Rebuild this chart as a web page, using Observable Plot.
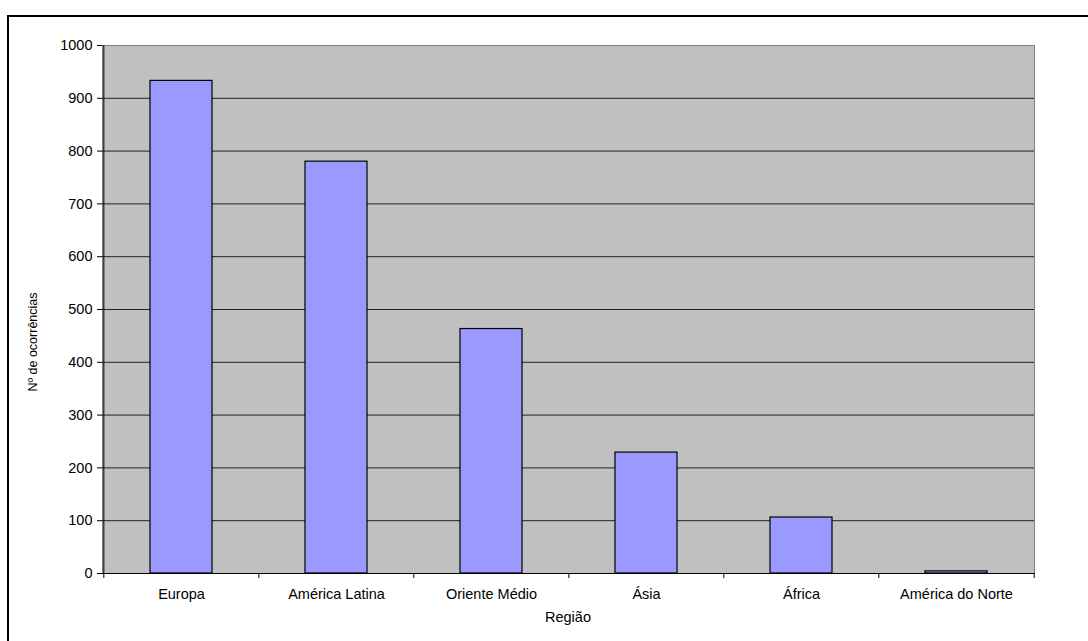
<!DOCTYPE html>
<html>
<head>
<meta charset="utf-8">
<script src="https://cdn.jsdelivr.net/npm/d3@7"></script>
<script src="https://cdn.jsdelivr.net/npm/@observablehq/plot@0.6"></script>
<style>
  html, body { margin: 0; padding: 0; background: #fff; }
  #wrap { position: relative; width: 1088px; height: 641px; overflow: hidden; }
  #border { position: absolute; left: 7px; top: 15px; width: 1200px; height: 800px; border-left: 2px solid #000; border-top: 2px solid #000; box-sizing: border-box; }
  #chart { position: absolute; left: 0; top: 0; }
  #ylab { position: absolute; left: 33px; top: 342px; transform: translate(-50%, -50%) rotate(-90deg); font: 12.5px "Liberation Sans", Arial, sans-serif; white-space: nowrap; color: #000; }
  #xlab { position: absolute; left: 568px; top: 617px; transform: translate(-50%, -50%); font: 14.5px "Liberation Sans", Arial, sans-serif; color: #000; }
</style>
</head>
<body>
<div id="wrap">
  <div id="border"></div>
  <div id="chart"></div>
  <div id="ylab">Nº de ocorrências</div>
  <div id="xlab">Região</div>
</div>
<script>
const regions = ["Europa", "América Latina", "Oriente Médio", "Ásia", "África", "América do Norte"];
const counts = [933, 780, 463, 229, 106, 4];
const yTicks = [0, 100, 200, 300, 400, 500, 600, 700, 800, 900, 1000];
const gridTicks = [100, 200, 300, 400, 500, 600, 700, 800, 900];

const data = regions.map((r, i) => ({region: r, value: counts[i]}));

const W = 1088, H = 641;
const mL = 102, mR = 54, mT = 45, mB = 68;
const step = (W - mL - mR) / regions.length;

const plot = Plot.plot({
  width: W,
  height: H,
  marginLeft: mL,
  marginRight: mR,
  marginTop: mT,
  marginBottom: mB,
  style: {fontFamily: "'Liberation Sans', Arial, sans-serif", fontSize: "14.5px", color: "#000", background: "transparent"},
  x: {domain: regions, paddingInner: 0.6, paddingOuter: 0.3, label: null},
  y: {domain: [0, 1000], label: null},
  marks: [
    Plot.frame({fill: "#c0c0c0", stroke: "#808080"}),
    Plot.gridY(gridTicks, {stroke: "#222", strokeOpacity: 1}),
    Plot.barY(data, {x: "region", y: "value", fill: "#9999ff", stroke: "#000", strokeWidth: 1.2}),
    Plot.ruleY([0], {stroke: "#000"}),
    Plot.ruleX([regions[0]], {dx: -step / 2, stroke: "#000"}),
    Plot.axisY(yTicks, {tickSize: 5, tickPadding: 5, fontSize: 14.5, stroke: "#000", tickFormat: d => String(d)}),
    Plot.axisX({tickSize: 0, tickPadding: 15, fontSize: 14.5}),
    Plot.ruleX(regions, {x: d => d, y1: 0, y2: -9.5, dx: -step / 2, stroke: "#000"}),
    Plot.ruleX([regions[regions.length - 1]], {x: d => d, y1: 0, y2: -9.5, dx: step / 2, stroke: "#000"})
  ]
});
document.getElementById("chart").appendChild(plot);
</script>
</body>
</html>
